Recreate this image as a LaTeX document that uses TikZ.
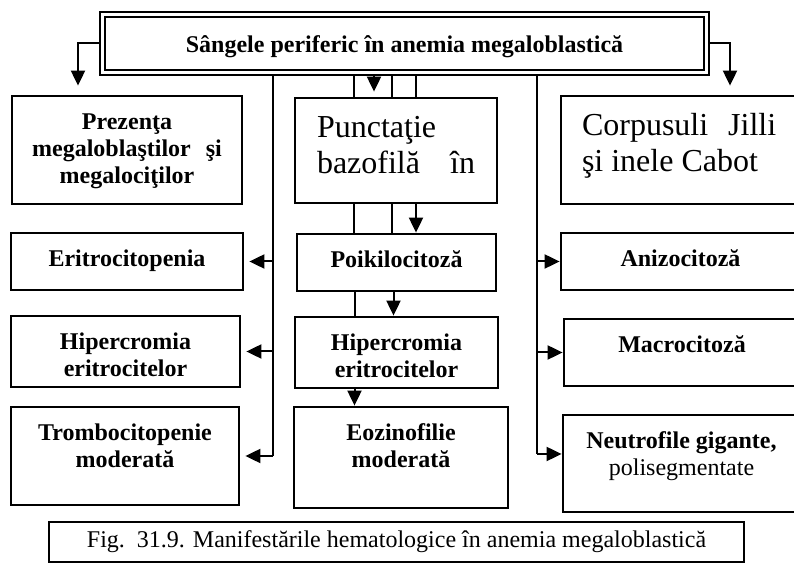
\documentclass[tikz,border=0pt]{standalone}
\usepackage{fontspec}
\setmainfont{Liberation Serif}
\usetikzlibrary{arrows.meta}

\newcommand{\cell}[3][99pt]{\parbox[c][#2][t]{#1}{\centering\vspace*{7.2pt}\strut#3}}

\begin{document}
\begin{tikzpicture}[x=0.5pt, y=-0.5pt]
  \tikzstyle{box} = [draw, line width=1.4pt, rectangle, inner sep=0pt, font={\fontsize{12}{13.5}\selectfont\bfseries}]
  \tikzstyle{bigbox} = [box, font={\fontsize{16}{18}\selectfont}]
  \tikzstyle{link} = [black, line width=1pt]
  \tikzstyle{arrow} = [link, -{Triangle[length=7.5pt, width=7pt]}]

  \useasboundingbox (0,0) rectangle (794,566);
  \clip (0,0) rectangle (794,566);

  \node[draw, double, double distance=1.5pt, line width=1pt, minimum width=302pt, minimum height=29pt, outer sep=1.75pt, text height=11.5pt, text depth=2.6pt, font={\fontsize{12}{13.5}\selectfont\bfseries}] (tit) at (404.5,43.5) {Sângele periferic în anemia megaloblastică};

  \node[box, minimum width=115pt] (prez) at (127,150) {\cell{54pt}{Prezenţa\\megaloblaştilor\hspace{7.5pt}şi\\megalociţilor}};
  \node[box, minimum width=116pt] (erit) at (127,261.5) {\cell{28.5pt}{Eritrocitopenia}};
  \node[box, minimum width=114.5pt] (hipl) at (125.5,351.5) {\cell{35.5pt}{Hipercromia\\eritrocitelor}};
  \node[box, minimum width=114pt] (tromb) at (125,456) {\cell{49pt}{Trombocitopenie\\moderată}};

  \node[bigbox, minimum width=101pt] (punct) at (396,150.5) {\cell[79pt]{52.5pt}{\raggedright Punctaţie\\bazofilă\hfill în}};
  \node[box, minimum width=99.5pt] (poik) at (396.5,262.5) {\cell[97pt]{28.5pt}{Poikilocitoză}};
  \node[box, minimum width=101.5pt] (hipm) at (396.5,352.5) {\cell{35.5pt}{Hipercromia\\eritrocitelor}};
  \node[box, minimum width=107pt] (eoz) at (401,457.5) {\cell{50.5pt}{Eozinofilie\\moderată}};

  \node[bigbox, minimum width=119.5pt] (corp) at (680.5,150) {\cell[98.5pt]{54pt}{\raggedright Corpusuli\hspace{10pt}Jilli\\şi inele Cabot}};
  \node[box, minimum width=119.5pt] (aniz) at (680.5,261.5) {\cell{28.5pt}{Anizocitoză}};
  \node[box, minimum width=118pt] (macro) at (682,352.5) {\cell{33.5pt}{Macrocitoză}};
  \node[box, minimum width=118.5pt] (neutro) at (681.5,463.5) {\cell{48.5pt}{Neutrofile gigante,\\\mdseries polisegmentate}};

  \node[draw, line width=1pt, minimum width=347.5pt, minimum height=20pt, font={\fontsize{12}{13.5}\selectfont}] (fig) at (396.5,542) {Fig.\ \ 31.9. Manifestările hematologice în anemia megaloblastică};

  \draw[arrow, shorten >=4.5pt] (tit.west) -| ([xshift=-24.5pt]prez.north);
  \draw[arrow, shorten >=4.5pt] (tit.east) -| ([xshift=24.75pt]corp.north);

  \foreach \dx in {-21,-2,10}
    \draw[link] ([xshift=\dx pt]punct.north |- tit.south) -- ([xshift=\dx pt]punct.north);
  \draw[arrow, shorten >=2.5pt] ([xshift=-11pt]punct.north |- tit.south) -- ([xshift=-11pt]punct.north);

  \foreach \dx in {-21,-2}
    \draw[link] ([xshift=\dx pt]punct.south) -- ([xshift=\dx pt]punct.south |- poik.north);
  \draw[arrow] ([xshift=10pt]punct.south) -- ([xshift=10pt]punct.south |- poik.north);
  \draw[link] ([xshift=-21pt]poik.south) -- ([xshift=-21pt]poik.south |- hipm.north);
  \draw[arrow] ([xshift=-1.5pt]poik.south) -- ([xshift=-1.5pt]poik.south |- hipm.north);
  \draw[arrow] ([xshift=-21pt]hipm.south) -- ([xshift=-21pt]hipm.south |- eoz.north);

  \coordinate (lbus) at (273,456);
  \draw[link] (tit.south -| lbus) -- (lbus);
  \foreach \n in {erit,hipl,tromb}
    \draw[arrow, shorten >=2.5pt] (\n.east -| lbus) -- (\n.east);

  \coordinate (rbus) at (537,454);
  \draw[link] (tit.south -| rbus) -- (rbus);
  \foreach \n in {aniz,macro}
    \draw[arrow] (\n.west -| rbus) -- (\n.west);
  \draw[arrow] (rbus) -- (rbus -| neutro.west);
\end{tikzpicture}
\end{document}
